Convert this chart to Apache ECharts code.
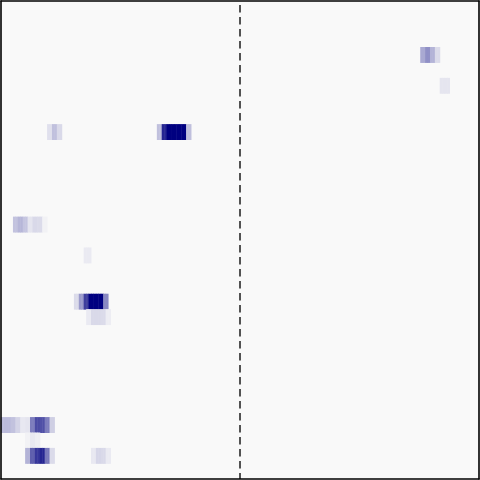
<!DOCTYPE html>
<html>
<head>
<meta charset="utf-8">
<script src="https://cdn.jsdelivr.net/npm/echarts@6/dist/echarts.min.js"></script>
<style>html,body{margin:0;padding:0;background:#fff}#c{width:480px;height:480px}</style>
</head>
<body>
<div id="c"></div>
<script>
// Grid size: 196 half-width columns, 31 rows (row 0 at top)
const nCols = 196;
const nRows = 31;
// Runs of non-empty cells: row, first column, intensity of each successive column (0..1)
const runRow   = [3, 5, 8, 8, 14, 16, 19, 20, 27, 28, 29, 29];
const runStart = [172, 180, 19, 64, 5, 34, 30, 35, 0, 10, 10, 37];
const runValues = [
  [.32,.32,.42,.42,.28,.28,.12,.12],
  [.08,.08,.08,.08],
  [.1,.1,.23,.23,.13,.13],
  [.23,.23,.85,.85,1,1,1,1,1,1,1,1,.23,.23],
  [.22,.22,.27,.27,.21,.21,.08,.08,.13,.13,.12,.12,.03,.03],
  [.06,.06,.06],
  [.12,.12,.38,.38,.75,.75,1,1,1,1,1,1,.45,.45],
  [.06,.06,.13,.13,.13,.13,.12,.12,.05,.05],
  [.25,.25,.25,.25,.22,.22,.15,.15,.07,.07,.08,.08,.5,.5,.7,.7,.68,.68,.5,.5,.17,.17],
  [.03,.03,.07,.07,.05,.05],
  [.28,.28,.62,.62,.78,.78,.85,.85,.52,.52,.12,.12],
  [.07,.07,.14,.14,.13,.13,.06,.06]
];
// Dashed divider position (in column units) and its vertical extent
const dividerX = [98, 98];
const dividerY = [0, 31];

const xCats = Array.from({length: nCols}, (_, i) => String(i));
const yCats = Array.from({length: nRows}, (_, i) => String(i));
const heatData = [];
runRow.forEach((r, k) => {
  runValues[k].forEach((v, j) => heatData.push([runStart[k] + j, r, v]));
});

const chart = echarts.init(document.getElementById('c'), null, {renderer: 'canvas'});
const frame = {show: true, onZero: false, lineStyle: {color: '#000', width: 1.6}};
chart.setOption({
  animation: false,
  grid: {left: 1, right: 1, top: 1, bottom: 1, show: true, backgroundColor: '#f9f9f9', borderWidth: 0},
  xAxis: [
    {type: 'category', data: xCats, position: 'bottom', z: 10, axisLine: frame,
     axisTick: {show: false}, axisLabel: {show: false}, splitLine: {show: false}},
    {type: 'value', min: 0, max: nCols, position: 'top', z: 10, axisLine: frame,
     axisTick: {show: false}, axisLabel: {show: false}, splitLine: {show: false}}
  ],
  yAxis: [
    {type: 'category', data: yCats, inverse: true, position: 'left', z: 10, axisLine: frame,
     axisTick: {show: false}, axisLabel: {show: false}, splitLine: {show: false}},
    {type: 'value', min: 0, max: nRows, inverse: true, position: 'right', z: 10, axisLine: frame,
     axisTick: {show: false}, axisLabel: {show: false}, splitLine: {show: false}}
  ],
  visualMap: {show: false, min: 0, max: 1, dimension: 2, seriesIndex: 0,
    inRange: {color: ['#f9f9f9', '#000080']}},
  series: [
    {type: 'heatmap', xAxisIndex: 0, yAxisIndex: 0, data: heatData,
     itemStyle: {borderWidth: 0}, emphasis: {disabled: true}, silent: true},
    {type: 'line', xAxisIndex: 1, yAxisIndex: 1, silent: true, symbol: 'none',
     data: dividerX.map((x, i) => [x, dividerY[i]]),
     lineStyle: {color: '#1a1a1a', width: 1.5, type: [7.4, 4.6], dashOffset: 8}, z: 5}
  ]
});
</script>
</body>
</html>
